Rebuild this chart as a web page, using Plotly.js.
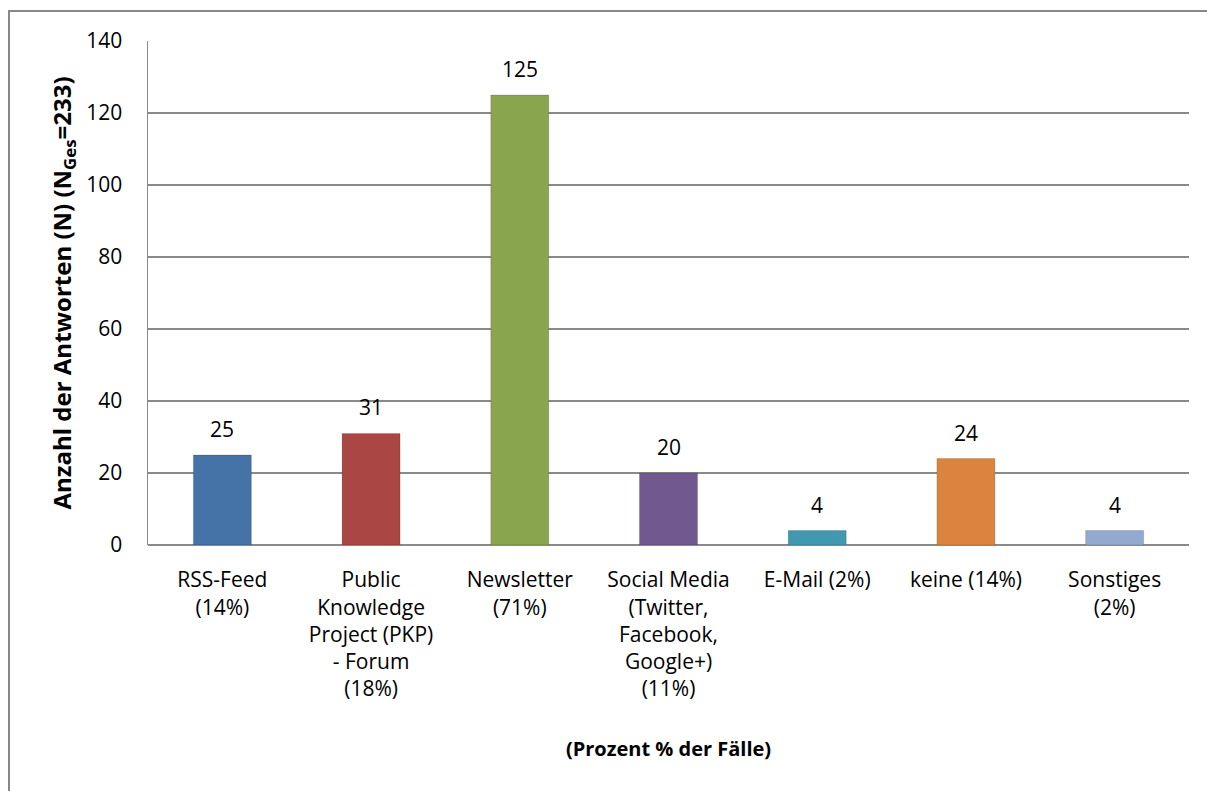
<!DOCTYPE html>
<html>
<head>
<meta charset="utf-8">
<script src="https://cdn.plot.ly/plotly-3.0.1.min.js"></script>
<style>
  html, body { margin: 0; padding: 0; background: #fff; }
  #wrap { position: relative; width: 1207px; height: 791px; overflow: hidden; }
  #chart { position: absolute; left: 0; top: 0; width: 1207px; height: 791px; }
  #frame { position: absolute; left: 8px; top: 10px; width: 1300px; height: 900px;
           border-left: 2px solid #888; border-top: 2px solid #888; pointer-events: none; }
</style>
</head>
<body>
<div id="wrap">
  <div id="chart"></div>
  <div id="frame"></div>
</div>
<script>
const categories = [
  "RSS-Feed<br>(14%)",
  "Public<br>Knowledge<br>Project (PKP)<br>- Forum<br>(18%)",
  "Newsletter<br>(71%)",
  "Social Media<br>(Twitter,<br>Facebook,<br>Google+)<br>(11%)",
  "E-Mail (2%)",
  "keine (14%)",
  "Sonstiges<br>(2%)"
];
const values = [25, 31, 125, 20, 4, 24, 4];
const barColors = ["#4572A7", "#AA4643", "#89A54E", "#71588F", "#4198AF", "#DB843D", "#93A9CF"];
const yTicks = [0, 20, 40, 60, 80, 100, 120, 140];

const FONT = "'Open Sans', 'Noto Sans', sans-serif";

const trace = {
  type: "bar",
  x: categories,
  y: values,
  marker: { color: barColors, line: { color: "rgba(0,0,0,0.15)", width: 1 } },
  hoverinfo: "x+y"
};

const annotations = categories.map((c, i) => ({
  x: c, y: values[i], xref: "x", yref: "y",
  text: String(values[i]), showarrow: false,
  yanchor: "bottom", yshift: 10,
  font: { family: FONT, size: 21, color: "#000" }
}));

const layout = {
  width: 1207, height: 791,
  margin: { l: 148, r: 18, t: 41, b: 246 },
  paper_bgcolor: "#fff", plot_bgcolor: "#fff",
  font: { family: FONT, size: 21, color: "#000" },
  showlegend: false,
  bargap: 0.61,
  xaxis: {
    type: "category",
    tickfont: { family: FONT, size: 21, color: "#000" },
    ticks: "outside", ticklen: 16, tickcolor: "rgba(0,0,0,0)",
    showline: false, showgrid: false, zeroline: false,
    automargin: false,
    title: { text: "<b>(Prozent % der Fälle)</b>", font: { family: FONT, size: 20, color: "#000" }, standoff: 40 }
  },
  yaxis: {
    range: [0, 140],
    tickvals: yTicks,
    ticktext: yTicks.map(String),
    tickfont: { family: FONT, size: 21, color: "#000" },
    ticks: "outside", ticklen: 20, tickcolor: "rgba(0,0,0,0)",
    showgrid: true, gridcolor: "#8a8a8a", gridwidth: 1.5,
    showline: true, linecolor: "#8a8a8a", linewidth: 1.5,
    zeroline: true, zerolinecolor: "#8a8a8a", zerolinewidth: 1.5,
    automargin: false,
    title: { text: "<b>Anzahl der Antworten (N) (N<sub>Ges</sub>=233)</b>", font: { family: FONT, size: 24, color: "#000" }, standoff: 8 }
  },
  annotations: annotations
};

Plotly.newPlot("chart", [trace], layout, { displayModeBar: false, staticPlot: true });
</script>
</body>
</html>
